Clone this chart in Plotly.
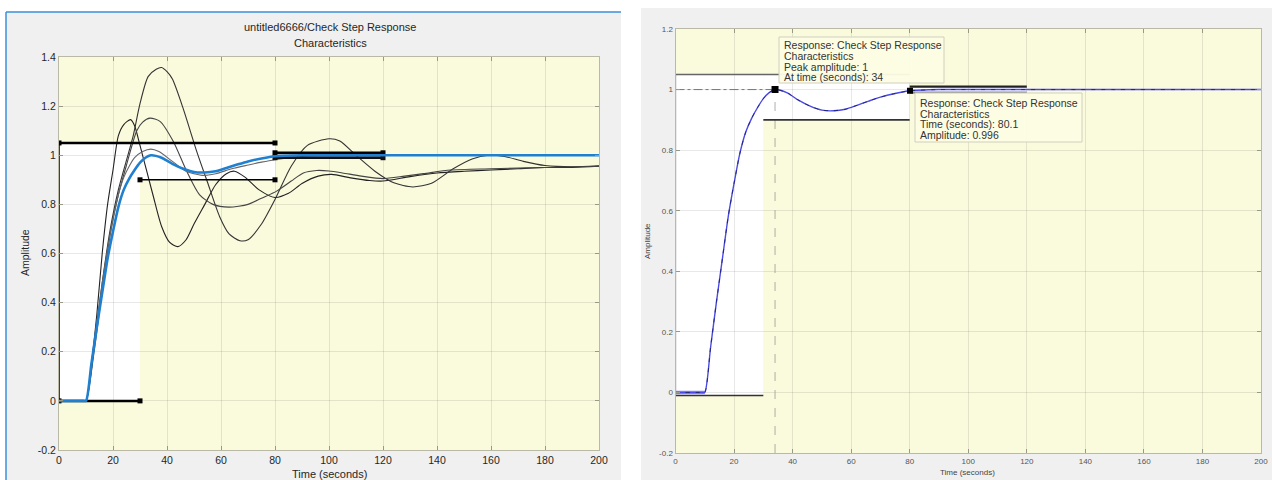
import plotly.graph_objects as go

W, H = 1272, 480

# ---------------- data ----------------
time_ticks = [0, 20, 40, 60, 80, 100, 120, 140, 160, 180, 200]
time_labels = ["0", "20", "40", "60", "80", "100", "120", "140", "160", "180", "200"]
amp_ticks_left = [-0.2, 0, 0.2, 0.4, 0.6, 0.8, 1, 1.2, 1.4]
amp_labels_left = ["-0.2", "0", "0.2", "0.4", "0.6", "0.8", "1", "1.2", "1.4"]
amp_ticks_right = [-0.2, 0, 0.2, 0.4, 0.6, 0.8, 1, 1.2]
amp_labels_right = ["-0.2", "0", "0.2", "0.4", "0.6", "0.8", "1", "1.2"]

# final tuned response (blue), shown in both panels
t_blue = [0, 9, 10, 12, 14, 16, 18, 20, 22, 24, 26, 28, 30, 32, 34, 38, 42, 46, 50, 54,
          58, 62, 66, 70, 75, 80, 90, 100, 150, 200]
y_blue = [0, 0, 0, 0.15, 0.3, 0.44, 0.58, 0.69, 0.79, 0.86, 0.905, 0.94, 0.97, 0.99, 1.0,
          0.99, 0.965, 0.945, 0.932, 0.93, 0.935, 0.948, 0.962, 0.975, 0.987, 0.996, 1.0,
          1.0, 1.0, 1.0]

# intermediate responses (left panel, thin dark lines)
t_r1 = [0, 9, 10, 12, 14, 16, 18, 20, 22, 24, 26.5, 28, 30, 32.5, 35, 38, 41, 44, 47, 50,
        54, 58, 62, 65, 69, 74, 80, 85, 90, 96, 101, 108, 115, 120, 130, 140, 150, 160,
        170, 180, 190, 200]
y_r1 = [0, 0, 0, 0.15, 0.35, 0.6, 0.8, 0.94, 1.08, 1.125, 1.145, 1.12, 1.04, 0.935, 0.83,
        0.71, 0.645, 0.628, 0.655, 0.72, 0.8, 0.88, 0.925, 0.935, 0.91, 0.86, 0.828, 0.845,
        0.885, 0.915, 0.922, 0.908, 0.897, 0.895, 0.913, 0.928, 0.935, 0.94, 0.945, 0.95,
        0.95, 0.955]

t_r2 = [0, 9, 10, 13, 16, 19, 22, 25, 27.5, 30, 33, 36, 38, 40, 42, 46, 51, 55, 59.5, 63,
        67, 70, 75, 80, 86, 92, 100, 104, 110, 117, 124, 131, 138, 146, 153, 159, 165, 172,
        180, 190, 200]
y_r2 = [0, 0, 0, 0.22, 0.48, 0.7, 0.86, 0.98, 1.08, 1.21, 1.32, 1.35, 1.357, 1.34, 1.31,
        1.19, 1.016, 0.89, 0.75, 0.68, 0.652, 0.656, 0.72, 0.82, 0.955, 1.04, 1.067, 1.058,
        1.0, 0.935, 0.888, 0.871, 0.886, 0.945, 0.985, 1.0, 0.995, 0.975, 0.958, 0.953, 0.957]

t_r3 = [0, 9, 10, 13, 16, 19, 22, 25, 28.8, 31, 33.7, 37.4, 42.3, 47.3, 52, 57, 63, 70, 75,
        80.6, 86, 90.5, 95.4, 100, 105, 112, 120, 128, 135, 145, 160, 180, 200]
y_r3 = [0, 0, 0, 0.2, 0.45, 0.68, 0.84, 0.96, 1.1, 1.135, 1.151, 1.138, 1.057, 0.935, 0.84,
        0.8, 0.789, 0.8, 0.825, 0.854, 0.895, 0.928, 0.938, 0.936, 0.928, 0.915, 0.905,
        0.915, 0.925, 0.94, 0.945, 0.95, 0.955]

t_r4 = [0, 9, 10, 12, 14, 16, 18, 20, 22, 24, 26, 28, 31, 34, 37, 42, 47, 53, 58, 64, 70,
        75, 80, 90, 100, 150, 200]
y_r4 = [0, 0, 0, 0.15, 0.32, 0.48, 0.62, 0.74, 0.84, 0.91, 0.955, 0.99, 1.015, 1.025, 1.015,
        0.975, 0.935, 0.918, 0.925, 0.945, 0.96, 0.972, 0.982, 0.995, 1.0, 1.0, 1.0]

# step-response requirement bounds
bound_lower_t = [0, 30]
bound_lower_y = [0, 0]
bound_upper_t = [0, 80]
bound_upper_y = [1.05, 1.05]
bound_rise_t = [30, 80]
bound_rise_y = [0.9, 0.9]
bound_settle_t = [80, 120]
bound_settle_hi_y = [1.01, 1.01]
bound_settle_lo_y = [0.99, 0.99]
bound_lower_y_right = [-0.01, -0.01]

# data tips (right panel)
peak_t, peak_y = 34, 1.0
settle_t, settle_y = 80.1, 0.996
tip1_lines = ["Response: Check Step Response", "Characteristics",
              "Peak amplitude: 1", "At time (seconds): 34"]
tip2_lines = ["Response: Check Step Response", "Characteristics",
              "Time (seconds): 80.1", "Amplitude: 0.996"]

title_lines = ["untitled6666/Check Step Response", "Characteristics"]

# ---------------- helpers ----------------
def px(x):
    return x / W


def py(y):
    return 1 - y / H


YELLOW = "rgb(250,250,221)"
FONT = "Liberation Sans, Arial, sans-serif"

fig = go.Figure()


def line(x, y, xa, ya, color, width, dash="solid", shape="spline", mode="lines",
         msize=0, msym="square"):
    fig.add_trace(go.Scatter(
        x=x, y=y, xaxis=xa, yaxis=ya, mode=mode,
        line=dict(color=color, width=width, dash=dash, shape=shape, smoothing=0.7),
        marker=dict(size=msize, symbol=msym, color=color),
        hoverinfo="skip", showlegend=False))


# ---- left panel ----
line(t_r1, y_r1, "x", "y", "#222222", 1.1)
line(t_r2, y_r2, "x", "y", "#333333", 1.1)
line(t_r3, y_r3, "x", "y", "#444444", 1.1)
line(t_r4, y_r4, "x", "y", "#666666", 1.1)
line(bound_lower_t, bound_lower_y, "x", "y", "#000000", 2.5, shape="linear",
     mode="lines+markers", msize=5)
line(bound_upper_t, bound_upper_y, "x", "y", "#000000", 2.5, shape="linear",
     mode="lines+markers", msize=5)
line([0, 0], [0, 1.05], "x", "y", "#000000", 1.5, shape="linear")
line(bound_rise_t, bound_rise_y, "x", "y", "#000000", 1.6, shape="linear",
     mode="lines+markers", msize=5)
line(bound_settle_t, bound_settle_lo_y, "x", "y", "#111111", 2.8, shape="linear",
     mode="lines+markers", msize=5)
line(bound_settle_t, bound_settle_hi_y, "x", "y", "#000000", 2.8, shape="linear",
     mode="lines+markers", msize=5)
line(t_blue, y_blue, "x", "y", "#1f7fd0", 2.6)

# ---- right panel ----
line([peak_t, peak_t], [-0.2, peak_y], "x2", "y2", "#9a9a9a", 0.8, dash="dash", shape="linear")
line([0, peak_t], [peak_y, peak_y], "x2", "y2", "#777777", 1, dash="dashdot", shape="linear")
line(bound_lower_t, bound_lower_y_right, "x2", "y2", "#333333", 1.6, shape="linear")
line(bound_upper_t, bound_upper_y, "x2", "y2", "#666666", 1.6, shape="linear")
line([0, 0], [-0.01, 1.05], "x2", "y2", "#777777", 1.3, shape="linear")
line(bound_rise_t, bound_rise_y, "x2", "y2", "#333333", 1.6, shape="linear")
line(bound_settle_t, bound_settle_lo_y, "x2", "y2", "#8a8a8a", 2.2, shape="linear")
line(bound_settle_t, bound_settle_hi_y, "x2", "y2", "#222222", 2.2, shape="linear")
line([0, 10], [0, 0], "x2", "y2", "#8c8cf0", 3.5, shape="linear")
line(t_blue, y_blue, "x2", "y2", "#4a4ae6", 1.4)
line(t_blue, y_blue, "x2", "y2", "#1a1a60", 0.8, dash="4px,6px")
line([peak_t], [peak_y], "x2", "y2", "#000000", 0, mode="markers", msize=7)
line([settle_t], [settle_y], "x2", "y2", "#000000", 0, mode="markers", msize=6)

# ---------------- shapes ----------------
shapes = []
# white page areas around the two window backgrounds
for x0, y0, x1, y1 in [(0, 0, 6, 480), (0, 0, 1272, 8), (0, 0, 641, 12), (621, 0, 641, 480)]:
    shapes.append(dict(type="rect", xref="paper", yref="paper", x0=px(x0), x1=px(x1),
                       y0=py(y1), y1=py(y0), fillcolor="white", line=dict(width=0),
                       layer="below"))
# blue window frame (left)
shapes.append(dict(type="line", xref="paper", yref="paper", x0=px(6), x1=px(621),
                   y0=py(12), y1=py(12), line=dict(color="#3d8fdc", width=1.5)))
shapes.append(dict(type="line", xref="paper", yref="paper", x0=px(6), x1=px(6),
                   y0=py(12), y1=py(480), line=dict(color="#3d8fdc", width=1.5)))
# allowed (white) regions inside the axes
for xa, ya, lo in [("x", "y", 0), ("x2", "y2", -0.01)]:
    shapes.append(dict(type="rect", xref=xa, yref=ya, x0=0, x1=30, y0=lo, y1=1.05,
                       fillcolor="white", line=dict(width=0), layer="below"))
    shapes.append(dict(type="rect", xref=xa, yref=ya, x0=30, x1=80, y0=0.9, y1=1.05,
                       fillcolor="white", line=dict(width=0), layer="below"))
    shapes.append(dict(type="rect", xref=xa, yref=ya, x0=80, x1=120, y0=0.99, y1=1.01,
                       fillcolor="white", line=dict(width=0), layer="below"))
# data tip boxes
shapes.append(dict(type="rect", xref="paper", yref="paper", x0=px(779), x1=px(944),
                   y0=py(83), y1=py(37), fillcolor="rgba(253,253,228,0.95)",
                   line=dict(color="#cfcfc0", width=1)))
shapes.append(dict(type="rect", xref="paper", yref="paper", x0=px(915), x1=px(1082),
                   y0=py(142), y1=py(93), fillcolor="rgba(253,253,228,0.95)",
                   line=dict(color="#cfcfc0", width=1)))

# ---------------- annotations ----------------
ann = []
for i, t in enumerate(title_lines):
    ann.append(dict(text=t, x=px(330), y=py(27 + 16 * i), xref="paper", yref="paper",
                    showarrow=False, xanchor="center", yanchor="middle",
                    font=dict(family=FONT, size=11, color="#262626")))
ann.append(dict(text="Amplitude", x=px(25), y=py(253), xref="paper", yref="paper",
                showarrow=False, textangle=-90, xanchor="center", yanchor="middle",
                font=dict(family=FONT, size=10.5, color="#262626")))
ann.append(dict(text="Time (seconds)", x=px(329), y=py(474), xref="paper", yref="paper",
                showarrow=False, xanchor="center", yanchor="middle",
                font=dict(family=FONT, size=11, color="#262626")))
ann.append(dict(text="Amplitude", x=px(647), y=py(241), xref="paper", yref="paper",
                showarrow=False, textangle=-90, xanchor="center", yanchor="middle",
                font=dict(family=FONT, size=8, color="#444444")))
ann.append(dict(text="Time (seconds)", x=px(967), y=py(472), xref="paper", yref="paper",
                showarrow=False, xanchor="center", yanchor="middle",
                font=dict(family=FONT, size=8, color="#444444")))
for i, t in enumerate(tip1_lines):
    ann.append(dict(text=t, x=px(782), y=py(45.5 + 10.6 * i), xref="paper", yref="paper",
                    showarrow=False, xanchor="left", yanchor="middle",
                    font=dict(family=FONT, size=10.5, color="#333333")))
for i, t in enumerate(tip2_lines):
    ann.append(dict(text=t, x=px(918), y=py(103 + 10.7 * i), xref="paper", yref="paper",
                    showarrow=False, xanchor="left", yanchor="middle",
                    font=dict(family=FONT, size=10.5, color="#333333")))

# ---------------- axes ----------------
grid_l = "rgba(0,0,0,0.09)"
common = dict(showgrid=True, gridcolor=grid_l, gridwidth=1, zeroline=False,
              showline=True, mirror="ticks", ticks="inside", ticklen=4,
              tickcolor="#999988", linecolor="#b9b9a6", linewidth=1, automargin=False)

fig.update_layout(
    width=W, height=H, margin=dict(l=0, r=0, t=0, b=0, pad=0), autosize=False,
    paper_bgcolor="#f0f0f0", plot_bgcolor=YELLOW,
    shapes=shapes, annotations=ann,
    xaxis=dict(domain=[px(59), px(599)], range=[0, 200], tickvals=time_ticks,
               ticktext=time_labels, anchor="y",
               tickfont=dict(family=FONT, size=10.5, color="#262626"), **common),
    yaxis=dict(domain=[py(450), py(57)], range=[-0.2, 1.4], tickvals=amp_ticks_left,
               ticktext=amp_labels_left, anchor="x",
               tickfont=dict(family=FONT, size=10.5, color="#262626"), **common),
    xaxis2=dict(domain=[px(675.5), px(1261)], range=[0, 200], tickvals=time_ticks,
                ticktext=time_labels, anchor="y2",
                tickfont=dict(family=FONT, size=8, color="#555555"), **common),
    yaxis2=dict(domain=[py(453), py(29)], range=[-0.2, 1.2], tickvals=amp_ticks_right,
                ticktext=amp_labels_right, anchor="x2",
                tickfont=dict(family=FONT, size=8, color="#555555"), **common),
)

fig.write_html("out.html", config={"displayModeBar": False},
               post_script="document.body.style.margin='0';"
                           "document.body.style.overflow='hidden';")
